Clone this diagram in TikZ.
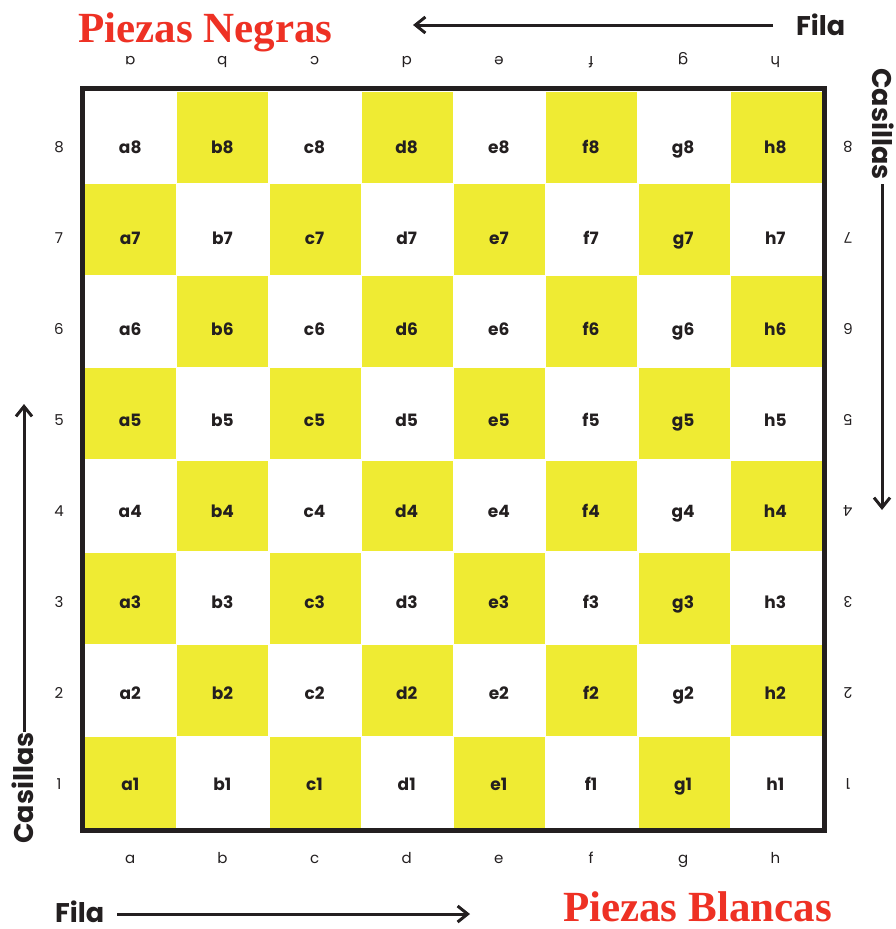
\documentclass[tikz,border=0pt]{standalone}
\usepackage{fontspec}
\setmainfont{Poppins}
\newfontfamily\titlefont{Liberation Serif}
\usetikzlibrary{arrows.meta}
\definecolor{yel}{HTML}{EFEB33}
\definecolor{ink}{HTML}{231F20}
\definecolor{titlered}{HTML}{EE3124}
\tikzset{
  sqlabel/.style={inner sep=0pt, anchor=base, text=ink, font=\fontsize{17}{17}\selectfont\bfseries},
  coordlabel/.style={inner sep=0pt, anchor=base, text=ink, font=\fontsize{15}{15}\selectfont},
  axislabel/.style={inner sep=0pt, text=ink, font=\fontsize{27}{27}\selectfont\bfseries},
  titlelabel/.style={inner sep=0pt, text=titlered, font=\fontsize{43}{43}\titlefont\bfseries},
  arr/.style={ink, line width=3pt, -{Straight Barb[length=10pt,width=16pt]}},
  boardframe/.style={ink, line width=5pt},
}
\begin{document}
\begin{tikzpicture}[x=1pt,y=-1pt]
\useasboundingbox (0,0) rectangle (896,929);
\fill[white] (0,0) rectangle (896,929);
% yellow squares
\foreach \i in {0,...,7}{
  \foreach \j in {0,...,7}{
    \pgfmathtruncatemacro\odd{mod(\i+\j,2)}
    \ifnum\odd=1
      \fill[yel] (84.5+\i*92.25+0.6, 91.5+\j*92.1+0.6) rectangle ++(91.05, 90.9);
    \fi
  }
}
% frame
\draw[boardframe] (82.5,88.5) rectangle (824.5,830.5);
% square labels
\foreach \f [count=\i from 0] in {a,b,c,d,e,f,g,h}{
  \foreach \r in {1,...,8}{
    \node[sqlabel] (sq\f\r) at (130.25+\i*92.15, 153+8*91-\r*91) {\f\r};
  }
  \node[coordlabel] (bot\f) at (130.25+\i*92.15, 863) {\f};
  \node[coordlabel, rotate=180] (top\f) at (130.25+\i*92.15, 56) {\f};
}
\foreach \r in {1,...,8}{
  \node[coordlabel] (left\r) at (59, 152.5+8*91-\r*91) {\r};
  \node[coordlabel, rotate=180] (right\r) at (848, 141.5+8*91-\r*91) {\r};
}
% titles
\node[titlelabel, anchor=base west] (negras) at (78,42) {Piezas Negras};
\node[titlelabel, anchor=base east] (blancas) at (832,921) {Piezas Blancas};
% axis labels and arrows
\node[axislabel, anchor=base west] (filaT) at (796,35) {Fila};
\coordinate (fT1) at (773,25);
\coordinate (fT2) at (413,25);
\draw[arr] (fT1) -- (fT2);
\node[axislabel, anchor=base west] (filaB) at (55,922) {Fila};
\coordinate (fB1) at (117,914);
\coordinate (fB2) at (470,914);
\draw[arr] (fB1) -- (fB2);
\node[axislabel, rotate=90, anchor=base] (casL) at (33,788) {Casillas};
\coordinate (cL1) at (24,732);
\coordinate (cL2) at (24,404);
\draw[arr] (cL1) -- (cL2);
\node[axislabel, rotate=-90, anchor=base] (casR) at (872,124) {Casillas};
\coordinate (cR1) at (882,184);
\coordinate (cR2) at (882,510);
\draw[arr] (cR1) -- (cR2);
\end{tikzpicture}
\end{document}
